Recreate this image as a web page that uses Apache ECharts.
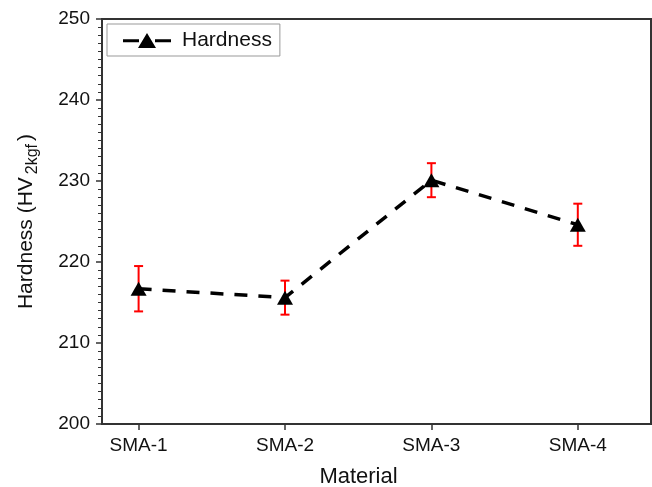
<!DOCTYPE html>
<html><head><meta charset="utf-8">
<script src="https://cdn.jsdelivr.net/npm/echarts@6/dist/echarts.min.js"></script>
<style>html,body{margin:0;padding:0;background:#fff}#c{width:652px;height:487px}</style>
</head><body><div id="c"></div>
<script>
const categories = ['SMA-1','SMA-2','SMA-3','SMA-4'];
const hardness = [216.7, 215.6, 230.1, 224.6];
const hardnessErr = [2.8, 2.1, 2.1, 2.6];
const yTicks = [200, 210, 220, 230, 240, 250];

const font = '"Liberation Sans", Arial, sans-serif';
const pts = categories.map((c,i)=>[i+1, hardness[i]]);
const errs = categories.map((c,i)=>[i+1, hardness[i]-hardnessErr[i], hardness[i]+hardnessErr[i]]);

const chart = echarts.init(document.getElementById('c'));
chart.setOption({
  animation:false,
  grid:{left:102,right:1,top:19,bottom:63,show:true,borderColor:'#333',borderWidth:2,
        containLabel:false,outerBoundsMode:'none'},
  legend:{
    left:107, top:24, itemWidth:48, itemHeight:15, itemGap:6,
    padding:[6,8,5,16],
    borderColor:'#999', borderWidth:1,
    textStyle:{fontFamily:font,fontSize:21,color:'#111',padding:[0,0,0,6]},
    data:[{name:'Hardness',
      icon:'path://M0,6.2 L16,6.2 L16,9.2 L0,9.2 Z M32,6.2 L48,6.2 L48,9.2 L32,9.2 Z M15,15 L24,0 L33,15 Z',
      itemStyle:{color:'#000'}}]
  },
  xAxis:{
    type:'value', min:0.75, max:4.5,
    name:'Material', nameLocation:'middle', nameGap:42,
    nameTextStyle:{fontFamily:font,fontSize:22,color:'#111',padding:[0,36,0,0]},
    axisLine:{lineStyle:{color:'#333',width:2}},
    axisTick:{show:true,length:6,lineStyle:{color:'#333',width:1.5},customValues:[1,2,3,4]},
    axisLabel:{fontFamily:font,fontSize:19,color:'#111',margin:12,customValues:[1,2,3,4],
      formatter:v=>categories[Math.round(v)-1]||''},
    splitLine:{show:false}
  },
  yAxis:{
    type:'value', min:yTicks[0], max:yTicks[yTicks.length-1], interval:10,
    name:'{a|Hardness (HV}{s|2kgf}{a|)}', nameLocation:'middle', nameGap:61,
    nameTextStyle:{rich:{
      a:{fontFamily:font,fontSize:21,color:'#111'},
      s:{fontFamily:font,fontSize:16,color:'#111',padding:[14,3,0,3]}}},
    axisLine:{show:true,lineStyle:{color:'#333',width:2}},
    axisTick:{show:true,length:6,lineStyle:{color:'#333',width:1.5}},
    minorTick:{show:true,splitNumber:10,length:4,lineStyle:{color:'#333',width:1}},
    axisLabel:{fontFamily:font,fontSize:19,color:'#111',margin:12},
    splitLine:{show:false}
  },
  series:[
    {
      name:'Hardness', type:'line', data:pts,
      symbol:'triangle', symbolSize:[16,14],
      itemStyle:{color:'#000'},
      lineStyle:{color:'#000',width:3.5,type:[13,11]},
      z:3
    },
    {
      name:'err', type:'custom', data:errs, z:2,
      renderItem:function(params, api){
        const x = api.value(0);
        const lo = api.coord([x, api.value(1)]);
        const hi = api.coord([x, api.value(2)]);
        const w = 4.5;
        const st = {stroke:'#ff0000',lineWidth:2};
        return {type:'group',children:[
          {type:'line',shape:{x1:lo[0],y1:lo[1],x2:hi[0],y2:hi[1]},style:st},
          {type:'line',shape:{x1:lo[0]-w,y1:lo[1],x2:lo[0]+w,y2:lo[1]},style:st},
          {type:'line',shape:{x1:hi[0]-w,y1:hi[1],x2:hi[0]+w,y2:hi[1]},style:st}
        ]};
      }
    }
  ]
});
</script></body></html>
